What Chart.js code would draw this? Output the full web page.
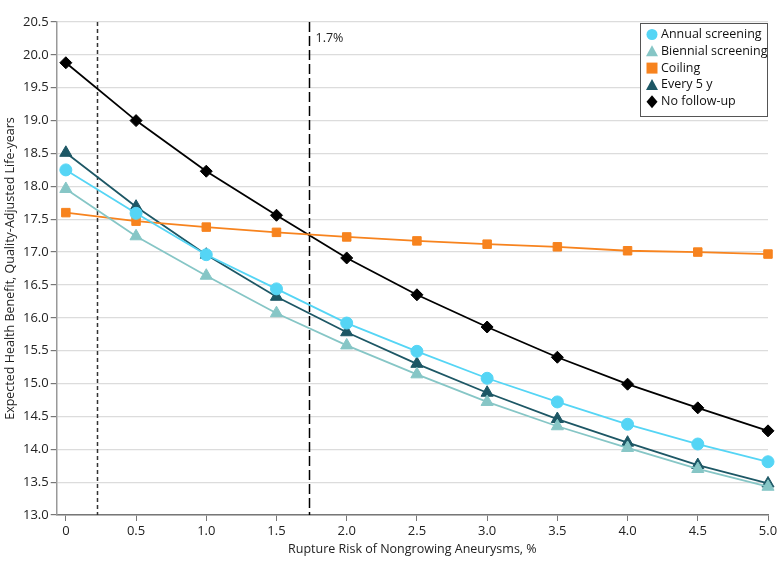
<!DOCTYPE html>
<html>
<head>
<meta charset="utf-8">
<script src="https://cdn.jsdelivr.net/npm/chart.js@4.4.1/dist/chart.umd.min.js"></script>
<style>
  html, body { margin: 0; padding: 0; background: #fff; }
  #wrap { width: 783px; height: 569px; }
</style>
</head>
<body>
<div id="wrap"><canvas id="chart" width="783" height="569"></canvas></div>
<script>
// rupture risk of nongrowing aneurysms, %
const risk = [0, 0.5, 1.0, 1.5, 2.0, 2.5, 3.0, 3.5, 4.0, 4.5, 5.0];

// expected QALYs
const annual    = [18.25, 17.59, 16.96, 16.44, 15.92, 15.49, 15.08, 14.72, 14.38, 14.08, 13.81];
const biennial  = [17.96, 17.24, 16.64, 16.07, 15.58, 15.14, 14.72, 14.35, 14.02, 13.70, 13.43];
const coiling   = [17.60, 17.47, 17.38, 17.30, 17.23, 17.17, 17.12, 17.08, 17.02, 17.00, 16.97];
const every5y   = [18.51, 17.69, 16.96, 16.32, 15.78, 15.30, 14.86, 14.46, 14.10, 13.76, 13.48];
const noFollow  = [19.88, 19.00, 18.23, 17.56, 16.91, 16.35, 15.86, 15.40, 14.99, 14.63, 14.28];

// threshold lines
const thresholdDotted = 0.22;
const thresholdDashed = 1.73;
const thresholdLabel = '1.7%';

const FONT = '"Open Sans", "DejaVu Sans", sans-serif';

function pts(arr) {
  var out = [];
  for (var i = 0; i < risk.length; i++) out.push({x: risk[i], y: arr[i]});
  return out;
}

function series(label, arr, color, style, radius) {
  return {
    label: label,
    data: pts(arr),
    borderColor: color,
    backgroundColor: color,
    pointBackgroundColor: color,
    pointBorderColor: color,
    pointStyle: style,
    pointRadius: radius,
    pointBorderWidth: 1,
    borderWidth: 1.8,
    tension: 0,
    clip: false
  };
}

const datasets = [
  series('Annual screening', annual, '#55d5f5', 'circle', 6),
  series('Biennial screening', biennial, '#86c6c6', 'triangle', 7),
  series('Coiling', coiling, '#f7831e', 'rect', 6),
  series('Every 5 y', every5y, '#1d5765', 'triangle', 7),
  series('No follow-up', noFollow, '#000000', 'rectRot', 6)
];

// vertical reference lines + label
const refLines = {
  id: 'refLines',
  beforeDatasetsDraw: function (chart) {
    var ctx = chart.ctx, xs = chart.scales.x, a = chart.chartArea;
    ctx.save();
    ctx.lineWidth = 1.5;
    ctx.strokeStyle = '#333';
    ctx.setLineDash([4, 3]);
    var x1 = Math.round(xs.getPixelForValue(thresholdDotted)) + 0.5;
    ctx.beginPath(); ctx.moveTo(x1, a.top); ctx.lineTo(x1, a.bottom); ctx.stroke();
    ctx.strokeStyle = '#000';
    ctx.setLineDash([10, 4]);
    var x2 = Math.round(xs.getPixelForValue(thresholdDashed)) + 0.5;
    ctx.beginPath(); ctx.moveTo(x2, a.top); ctx.lineTo(x2, a.bottom); ctx.stroke();
    ctx.setLineDash([]);
    ctx.fillStyle = '#222';
    ctx.font = '12.5px ' + FONT;
    ctx.textBaseline = 'middle';
    ctx.fillText(thresholdLabel, x2 + 6, a.top + 16);
    ctx.restore();
  }
};

// boxed legend in the top right corner
const boxLegend = {
  id: 'boxLegend',
  afterDraw: function (chart) {
    var ctx = chart.ctx, a = chart.chartArea;
    var ds = chart.data.datasets;
    var w = 127, h = 93, lh = 16.8;
    var left = a.right - w - 1, top = a.top + 1;
    ctx.save();
    ctx.fillStyle = '#fff';
    ctx.fillRect(left, top, w, h);
    ctx.strokeStyle = '#555';
    ctx.lineWidth = 1;
    ctx.strokeRect(left + 0.5, top + 0.5, w, h);
    ctx.font = '12.5px ' + FONT;
    ctx.textBaseline = 'middle';
    for (var i = 0; i < ds.length; i++) {
      var cy = top + 11.5 + i * lh;
      var cx = left + 12;
      ctx.fillStyle = ds[i].pointBackgroundColor;
      ctx.beginPath();
      var st = ds[i].pointStyle;
      if (st === 'circle') {
        ctx.arc(cx, cy, 5.5, 0, Math.PI * 2);
      } else if (st === 'triangle') {
        ctx.moveTo(cx, cy - 6); ctx.lineTo(cx + 6, cy + 5); ctx.lineTo(cx - 6, cy + 5); ctx.closePath();
      } else if (st === 'rect') {
        ctx.rect(cx - 5.5, cy - 5.5, 11, 11);
      } else {
        ctx.moveTo(cx, cy - 6.5); ctx.lineTo(cx + 5.5, cy); ctx.lineTo(cx, cy + 6.5); ctx.lineTo(cx - 5.5, cy); ctx.closePath();
      }
      ctx.fill();
      ctx.fillStyle = '#111';
      ctx.fillText(ds[i].label, left + 21, cy);
    }
    ctx.restore();
  }
};

new Chart(document.getElementById('chart'), {
  type: 'line',
  data: { datasets: datasets },
  plugins: [refLines, boxLegend],
  options: {
    responsive: false,
    animation: false,
    layout: { padding: { top: 22, right: 15, left: 3, bottom: 4 } },
    plugins: {
      legend: { display: false },
      tooltip: { enabled: false }
    },
    scales: {
      x: {
        type: 'linear',
        min: -0.065,
        max: 5.0,
        afterBuildTicks: function (axis) {
          var t = [];
          for (var i = 0; i < risk.length; i++) t.push({value: risk[i]});
          axis.ticks = t;
        },
        afterFit: function (axis) { axis.height = 50; },
        grid: {
          drawOnChartArea: false,
          drawTicks: true,
          tickLength: 6,
          color: '#777'
        },
        border: { display: true, color: '#777', width: 1.5 },
        ticks: {
          color: '#222',
          padding: 2,
          maxRotation: 0,
          minRotation: 0,
          autoSkip: false,
          font: { family: FONT, size: 13 },
          callback: function (v) { return v === 0 ? '0' : v.toFixed(1); }
        },
        title: {
          display: true,
          text: 'Rupture Risk of Nongrowing Aneurysms, %',
          color: '#222',
          font: { family: FONT, size: 12.5 },
          padding: { top: 0, bottom: 8 }
        }
      },
      y: {
        min: 13.0,
        max: 20.5,
        ticks: {
          stepSize: 0.5,
          color: '#222',
          padding: 2,
          font: { family: FONT, size: 13 },
          callback: function (v) { return v.toFixed(1); }
        },
        grid: {
          color: '#dcdcdc',
          lineWidth: 1.2,
          tickLength: 6,
          tickColor: '#777'
        },
        border: { display: true, color: '#999', width: 1.5 },
        title: {
          display: true,
          text: 'Expected Health Benefit, Quality-Adjusted Life-years',
          color: '#222',
          font: { family: FONT, size: 12.5 },
          padding: { top: 0, bottom: 3 }
        }
      }
    }
  }
});
</script>
</body>
</html>
